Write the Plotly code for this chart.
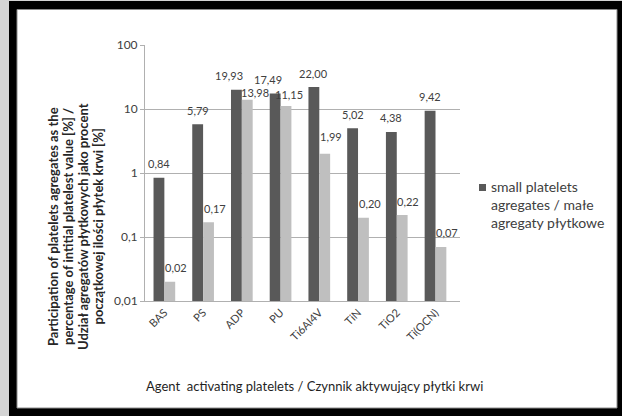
import math
import plotly.graph_objects as go

# ---- data -------------------------------------------------------------
agents = ["BAS", "PS", "ADP", "PU", "Ti6Al4V", "TiN", "TiO2", "Ti(OCN)"]
small_aggregates = [0.84, 5.79, 19.93, 17.49, 22.00, 5.02, 4.38, 9.42]
large_aggregates = [0.02, 0.17, 13.98, 11.15, 1.99, 0.20, 0.22, 0.07]

small_name = "small platelets<br>agregates / małe<br>agregaty płytkowe"
large_name = "large platelets agregates / duże agregaty płytkowe"

y_title_lines = [
    "Participation of platelets agregates as the",
    "percentage of intitial platelest value [%] /",
    "Udział agregatów płytkowych jako procent",
    "początkowej ilości płytek krwi [%]",
]
x_title = "Agent  activating platelets / Czynnik aktywujący płytki krwi"

# ---- style ------------------------------------------------------------
FONT = "Lato, 'Open Sans', Arial, sans-serif"
DARK = "#595959"
LIGHT = "#bfbfbf"
TXT = "#404040"

W, H = 622, 416
PL, PR, PT, PB = 145, 460, 45, 301  # plot area in pixels


def fx(px):
    return (px - PL) / (PR - PL)


def fy(py):
    return (PB - py) / (PB - PT)


fig = go.Figure()

fig.add_bar(x=agents, y=small_aggregates, marker_color=DARK,
            marker_line_width=0, showlegend=False, name=small_name)
fig.add_bar(x=agents, y=large_aggregates, marker_color=LIGHT,
            marker_line_width=0, showlegend=False, name=large_name)


def fmt(v):
    return f"{v:.2f}".replace(".", ",")


# value labels (pixel nudges keep neighbouring labels apart)
dark_nudge = {2: (-7, 0), 3: (-7, 0)}
light_nudge = {2: (2, -7), 3: (-3, -3), 4: (0, 3)}
for i, (a, v) in enumerate(zip(agents, small_aggregates)):
    dx, dy = dark_nudge.get(i, (0, 0))
    fig.add_annotation(x=a, y=math.log10(v), text=fmt(v), showarrow=False,
                       xanchor="center", yanchor="middle",
                       xshift=-5.5 + dx, yshift=14 + dy,
                       font=dict(family=FONT, size=11, color=TXT))
for i, (a, v) in enumerate(zip(agents, large_aggregates)):
    dx, dy = light_nudge.get(i, (0, 0))
    fig.add_annotation(x=a, y=math.log10(v), text=fmt(v), showarrow=False,
                       xanchor="center", yanchor="middle",
                       xshift=11.5 + dx, yshift=14 + dy,
                       font=dict(family=FONT, size=11, color=TXT))

# y-axis title, one rotated line per annotation
for line, px in zip(y_title_lines, [53, 68, 83, 97.5]):
    fig.add_annotation(
        xref="paper", yref="paper", x=fx(px), y=fy(227), showarrow=False,
        xanchor="center", yanchor="middle", textangle=-90,
        text=line,
        font=dict(family=FONT, size=13, color="#262626", weight="bold"))

# x-axis title
fig.add_annotation(
    xref="paper", yref="paper", x=fx(314), y=fy(386), showarrow=False,
    xanchor="center", yanchor="middle",
    text=x_title,
    font=dict(family=FONT, size=13, color="#1f1f1f"))

# legend: key square and series name
fig.add_annotation(
    xref="paper", yref="paper", x=fx(489), y=fy(176), showarrow=False,
    xanchor="left", yanchor="top", align="left",
    text=small_name, font=dict(family=FONT, size=14, color=TXT))

# frame: grey strip, black border, white chart area, legend key
shapes = [
    dict(type="rect", xref="paper", yref="paper", layer="below",
         x0=fx(0), x1=fx(9), y0=fy(H), y1=fy(0),
         fillcolor="#d4d4d4", line_width=0),
    dict(type="rect", xref="paper", yref="paper", layer="below",
         x0=fx(0), x1=fx(W), y0=fy(1), y1=fy(0),
         fillcolor="#d4d4d4", line_width=0),
    dict(type="rect", xref="paper", yref="paper", layer="below",
         x0=fx(17), x1=fx(617), y0=fy(408), y1=fy(9.5),
         fillcolor="white", line=dict(color="#8c8c8c", width=1)),
    dict(type="rect", xref="paper", yref="paper",
         x0=fx(479), x1=fx(486), y0=fy(191), y1=fy(184),
         fillcolor=DARK, line_width=0),
]

fig.update_layout(
    width=W, height=H,
    margin=dict(l=PL, r=W - PR, t=PT, b=H - PB),
    paper_bgcolor="#000000",
    plot_bgcolor="white",
    barmode="group", bargap=0.44, bargroupgap=0,
    font=dict(family=FONT, color=TXT),
    shapes=shapes,
    showlegend=False,
)

fig.update_yaxes(type="log", range=[-2, 2],
                 tickvals=[0.01, 0.1, 1, 10, 100],
                 ticktext=["0,01", "0,1", "1", "10", "100"],
                 showgrid=True, gridcolor="#b0b0b0", gridwidth=1,
                 showline=True, linecolor="#b0b0b0", linewidth=1,
                 ticks="outside", ticklen=4, tickcolor="#b0b0b0",
                 tickfont=dict(family=FONT, size=12, color=TXT),
                 zeroline=False)
fig.update_xaxes(showline=True, linecolor="#b0b0b0", linewidth=1,
                 tickangle=-45, ticks="",
                 tickfont=dict(family=FONT, size=11, color=TXT))

fig.write_html("out.html")
